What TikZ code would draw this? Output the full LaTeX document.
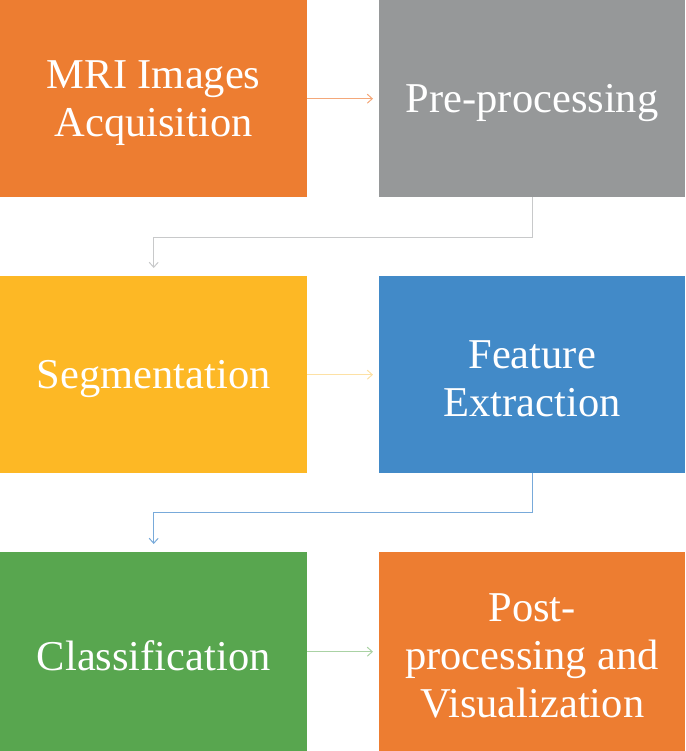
\documentclass[tikz,border=0pt]{standalone}
\usepackage{fontspec}
\setmainfont{Liberation Serif}
\usetikzlibrary{arrows.meta}
\definecolor{cOrange}{RGB}{237,125,49}
\definecolor{cGray}{RGB}{150,152,153}
\definecolor{cYellow}{RGB}{253,184,37}
\definecolor{cBlue}{RGB}{66,138,200}
\definecolor{cGreen}{RGB}{88,166,79}
\definecolor{lOrange}{RGB}{244,168,122}
\definecolor{lGray}{RGB}{200,201,202}
\definecolor{lYellow}{RGB}{253,225,165}
\definecolor{lBlue}{RGB}{120,170,218}
\definecolor{lGreen}{RGB}{170,210,164}
\newcommand{\lowtxt}[1]{\raisebox{-4pt}[\height][\depth]{\parbox{300pt}{\centering #1}}}
\tikzset{
  box/.style={anchor=north west, minimum width=307pt, minimum height=197pt,
    inner sep=0pt, text=white, align=center, font=\fontsize{42.5}{48}\selectfont},
  conn/.style={line width=1pt, -{Straight Barb[length=5pt,width=9pt]}}
}
\begin{document}
\begin{tikzpicture}[x=1pt,y=-1pt]
\useasboundingbox (0,0) rectangle (685,751);
\node[box, fill=cOrange] (mri) at (0,0) {\lowtxt{MRI Images\\Acquisition}};
\node[box, fill=cGray, minimum width=306pt] (pre) at (379,0) {\lowtxt{Pre-processing}};
\node[box, fill=cYellow] (seg) at (0,276) {\lowtxt{Segmentation}};
\node[box, fill=cBlue, minimum width=306pt] (feat) at (379,276) {\lowtxt{Feature\\Extraction}};
\node[box, fill=cGreen, minimum height=199pt] (cls) at (0,552) {\lowtxt{Classification}};
\node[box, fill=cOrange, minimum width=306pt, minimum height=199pt] (post) at (379,552) {\lowtxt{Post-\\processing and\\Visualization}};
\draw[conn, lOrange, shorten >=6pt] (mri.east) -- (pre.west);
\draw[conn, lGray, shorten >=8pt] (pre.south) -- ++(0,40) -| (seg.north);
\draw[conn, lYellow, shorten >=6pt] (seg.east) -- (feat.west);
\draw[conn, lBlue, shorten >=8pt] (feat.south) -- ++(0,39) -| (cls.north);
\draw[conn, lGreen, shorten >=6pt] (cls.east) -- (post.west);
\end{tikzpicture}
\end{document}
